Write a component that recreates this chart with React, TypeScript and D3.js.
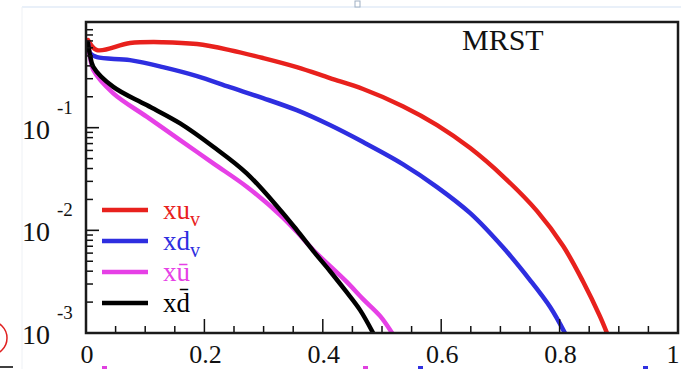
import React from 'react';
import * as d3 from 'd3';

// x tick labels and y decades
const xTickValues = [0, 0.2, 0.4, 0.6, 0.8, 1];
const xTickLabels = ['0', '0.2', '0.4', '0.6', '0.8', '1'];
const yDecades = [-3, -2, -1];
const yDecadeLabels = ['-3', '-2', '-1'];

// xu_v
const uvX = [0.0034, 0.0186, 0.0743, 0.130, 0.1875, 0.243, 0.299, 0.356, 0.412, 0.468, 0.535, 0.593, 0.649, 0.704, 0.762, 0.806, 0.840, 0.868, 0.880];
const uvY = [0.713, 0.570, 0.667, 0.681, 0.652, 0.570, 0.477, 0.389, 0.304, 0.238, 0.162, 0.106, 0.0633, 0.0338, 0.0154, 0.00703, 0.00314, 0.00146, 0.001];

// xd_v
const dvX = [0.0034, 0.0068, 0.0186, 0.0743, 0.130, 0.1875, 0.243, 0.299, 0.356, 0.412, 0.468, 0.535, 0.593, 0.649, 0.704, 0.750, 0.784, 0.809];
const dvY = [0.667, 0.532, 0.486, 0.455, 0.389, 0.318, 0.248, 0.194, 0.148, 0.106, 0.0724, 0.0442, 0.0264, 0.0147, 0.00687, 0.00328, 0.00179, 0.001];

// x ubar
const ubX = [0.0034, 0.0068, 0.0123, 0.0461, 0.1025, 0.159, 0.215, 0.2715, 0.328, 0.356, 0.384, 0.440, 0.468, 0.497, 0.517];
const ubY = [0.667, 0.486, 0.364, 0.216, 0.128, 0.0757, 0.0449, 0.0266, 0.0141, 0.00968, 0.00643, 0.00316, 0.00214, 0.00146, 0.001];

// x dbar
const dbX = [0.0034, 0.0068, 0.0123, 0.0461, 0.1025, 0.159, 0.215, 0.2715, 0.328, 0.356, 0.384, 0.412, 0.440, 0.463, 0.485];
const dbY = [0.667, 0.509, 0.392, 0.250, 0.166, 0.110, 0.0652, 0.0359, 0.0158, 0.01007, 0.00628, 0.00402, 0.00251, 0.00167, 0.001];

const seriesNames = ['xu', 'xd', 'xū', 'xd\u0304'];
const seriesSubs = ['v', 'v', '', ''];
const seriesColors = ['#e8211d', '#2e2ee0', '#e640e6', '#000000'];

const FONT = '"Liberation Serif", "Times New Roman", serif';

export default function App() {
  const W = 681, H = 369;
  const left = 86, right = 678, top = 22, bottom = 333;
  const x = d3.scaleLinear().domain([0, 1]).range([left, right]);
  const y = d3.scaleLog().domain([1e-3, 1.07]).range([bottom, top]);
  const line = d3.line<[number, number]>()
    .x(d => x(d[0]))
    .y(d => y(d[1]))
    .curve(d3.curveCatmullRom.alpha(0.5));

  const data = [
    d3.zip(uvX, uvY),
    d3.zip(dvX, dvY),
    d3.zip(ubX, ubY),
    d3.zip(dbX, dbY),
  ] as [number, number][][];

  const xMinor = d3.range(0, 21).map(i => i * 0.05);
  const yMinor: number[] = [];
  yDecades.forEach(d => {
    for (let k = 2; k <= 9; k++) yMinor.push(k * Math.pow(10, d));
  });

  return (
    <svg width={W} height={H} style={{ position: 'absolute', left: 0, top: 0, background: '#fff' }}
      fontFamily={FONT}>
      <rect x={0} y={0} width={W} height={H} fill="#fff" />
      {/* slide artifacts */}
      <line x1={22} y1={7} x2={681} y2={7} stroke="#d3e2f4" strokeWidth={1.2} />
      <line x1={22} y1={7} x2={22} y2={369} stroke="#eef1f5" strokeWidth={1} />
      <rect x={355} y={1} width={5} height={6} fill="#fff" stroke="#9fb0c4" strokeWidth={1} />
      <ellipse cx={-10} cy={338} rx={17} ry={17} fill="none" stroke="#e02020" strokeWidth={1.5} />
      <line x1={0} y1={367} x2={13} y2={367} stroke="#000" strokeWidth={1.5} />
      <rect x={102} y={366} width={5} height={3} fill="#e040e0" />
      <rect x={363} y={366} width={5} height={3} fill="#e040e0" />
      <rect x={418} y={366} width={5} height={3} fill="#3030e0" />
      <rect x={643} y={366} width={5} height={3} fill="#3030e0" />

      <defs>
        <clipPath id="plotclip">
          <rect x={left} y={top} width={right - left} height={bottom - top} />
        </clipPath>
      </defs>

      {/* curves */}
      <g clipPath="url(#plotclip)">
        {data.map((d, i) => (
          <path key={i} d={line(d) || ''} fill="none" stroke={seriesColors[i]}
            strokeWidth={4.5} strokeLinejoin="round" strokeLinecap="round" />
        ))}
      </g>

      {/* x ticks */}
      {xMinor.map((v, i) => {
        const major = i % 4 === 0;
        return (
          <line key={'xt' + i} x1={x(v)} x2={x(v)} y1={bottom} y2={bottom - (major ? 14 : 7)}
            stroke="#111" strokeWidth={1.5} />
        );
      })}
      {/* y ticks */}
      {yDecades.map(d => (
        <line key={'yM' + d} x1={left} x2={left + 13} y1={y(Math.pow(10, d))} y2={y(Math.pow(10, d))}
          stroke="#111" strokeWidth={1.6} />
      ))}
      {yMinor.map((v, i) => (
        <line key={'ym' + i} x1={left} x2={left + 7} y1={y(v)} y2={y(v)} stroke="#111" strokeWidth={1.5} />
      ))}

      {/* frame */}
      <rect x={left} y={top} width={right - left} height={bottom - top} fill="none"
        stroke="#1a1a1a" strokeWidth={2.5} />

      {/* x labels */}
      {xTickValues.map((v, i) => (
        <text key={'xl' + i} x={Math.min(x(v) + 1, W - 8)} y={363} textAnchor="middle" fontSize={26} fill="#111">
          {xTickLabels[i]}
        </text>
      ))}

      {/* y labels */}
      {yDecades.map((d, i) => {
        const yy = y(Math.pow(10, d));
        return (
          <g key={'yl' + d}>
            <text x={22} y={yy + 11} fontSize={28} fill="#111">10</text>
            <text x={57} y={yy - 14} fontSize={19} fill="#111">{yDecadeLabels[i]}</text>
          </g>
        );
      })}

      {/* title */}
      <text x={462} y={50} fontSize={30} fill="#111">MRST</text>

      {/* legend */}
      {seriesNames.map((n, i) => {
        const ly = 210 + i * 31;
        return (
          <g key={'lg' + i}>
            <line x1={102} x2={148} y1={ly} y2={ly} stroke={seriesColors[i]} strokeWidth={4.5} />
            <text x={163} y={ly + 9} fontSize={27} fill={seriesColors[i]}>
              {n}
              {seriesSubs[i] ? <tspan fontSize={20} dy={7}>{seriesSubs[i]}</tspan> : null}
            </text>
          </g>
        );
      })}
    </svg>
  );
}
